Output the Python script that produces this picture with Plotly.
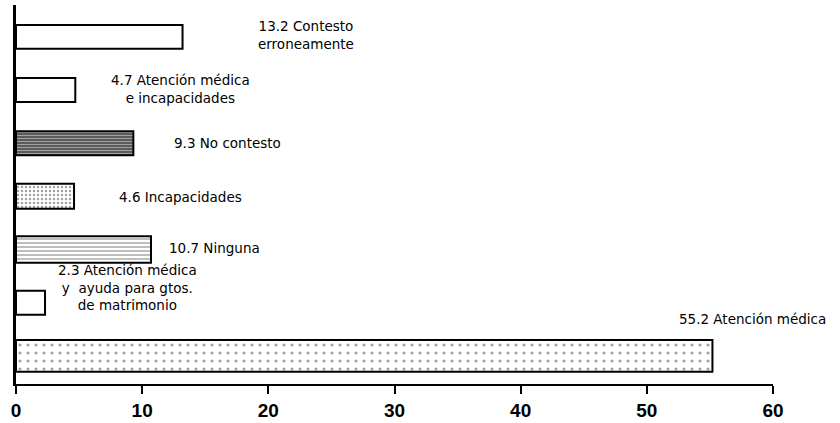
import plotly.graph_objects as go

categories = ["Atención médica", "Atención médica y ayuda para gtos. de matrimonio",
              "Ninguna", "Incapacidades", "No contesto",
              "Atención médica e incapacidades", "Contesto erroneamente"]
values = [55.2, 2.3, 10.7, 4.6, 9.3, 4.7, 13.2]
label_texts = ["55.2 Atención médica",
               "2.3 Atención médica<br>y  ayuda para gtos.<br>de matrimonio",
               "10.7 Ninguna", "4.6 Incapacidades", "9.3 No contesto",
               "4.7 Atención médica<br>e incapacidades",
               "13.2 Contesto<br>erroneamente"]
x_ticks = [0, 10, 20, 30, 40, 50, 60]

# styling (not data)
bar_widths = [0.6, 0.45, 0.5, 0.47, 0.45, 0.45, 0.45]
pat_shapes = [".", "", "-", ".", "-", "", ""]
pat_bg = ["white", "white", "white", "white", "#444", "white", "white"]
pat_fg = ["#aaa", "black", "black", "black", "black", "black", "black"]
pat_size = [8, 8, 4, 4, 3, 8, 8]
pat_sol = [0.12, 0.3, 0.35, 0.3, 0.5, 0.3, 0.3]
label_x = [58.4, 8.8, 15.7, 13.0, 16.8, 13.0, 23.0]
label_dy = [37, 15, 2, -1, 0, 1, 2]

fig = go.Figure()
fig.add_trace(go.Bar(
    x=values, y=categories, orientation="h", width=bar_widths,
    marker=dict(color=pat_bg, line=dict(color="black", width=2),
                pattern=dict(shape=pat_shapes, fgcolor=pat_fg, bgcolor=pat_bg,
                             size=pat_size, solidity=pat_sol)),
    hoverinfo="skip", showlegend=False,
))

for cat, txt, lx, dy in zip(categories, label_texts, label_x, label_dy):
    fig.add_annotation(x=lx, y=cat, text=txt, showarrow=False, yshift=dy,
                       font=dict(family="DejaVu Sans", size=13.5, color="black"),
                       align="center", xanchor="center", yanchor="middle")

fig.update_xaxes(range=[0, 60], tickvals=x_ticks, ticktext=[str(t) for t in x_ticks],
                 showgrid=False, zeroline=False, showline=True, linecolor="black",
                 linewidth=2, ticks="outside", ticklen=8, tickwidth=2, tickcolor="black",
                 tickfont=dict(family="Liberation Sans, Arial", size=19, color="black",
                               weight="bold"),
                 ticklabelstandoff=0, automargin=False)
fig.update_yaxes(type="category", categoryorder="array", categoryarray=categories,
                 range=[-0.53, 6.6], showticklabels=False, showgrid=False,
                 showline=True, linecolor="black", linewidth=3, ticks="",
                 automargin=False)

fig.update_layout(width=840, height=423, margin=dict(l=16, r=67, t=5, b=39),
                  plot_bgcolor="white", paper_bgcolor="white", bargap=0.5)
fig.write_html("out.html", config={"displayModeBar": False},
               post_script="document.body.style.margin='0';")
